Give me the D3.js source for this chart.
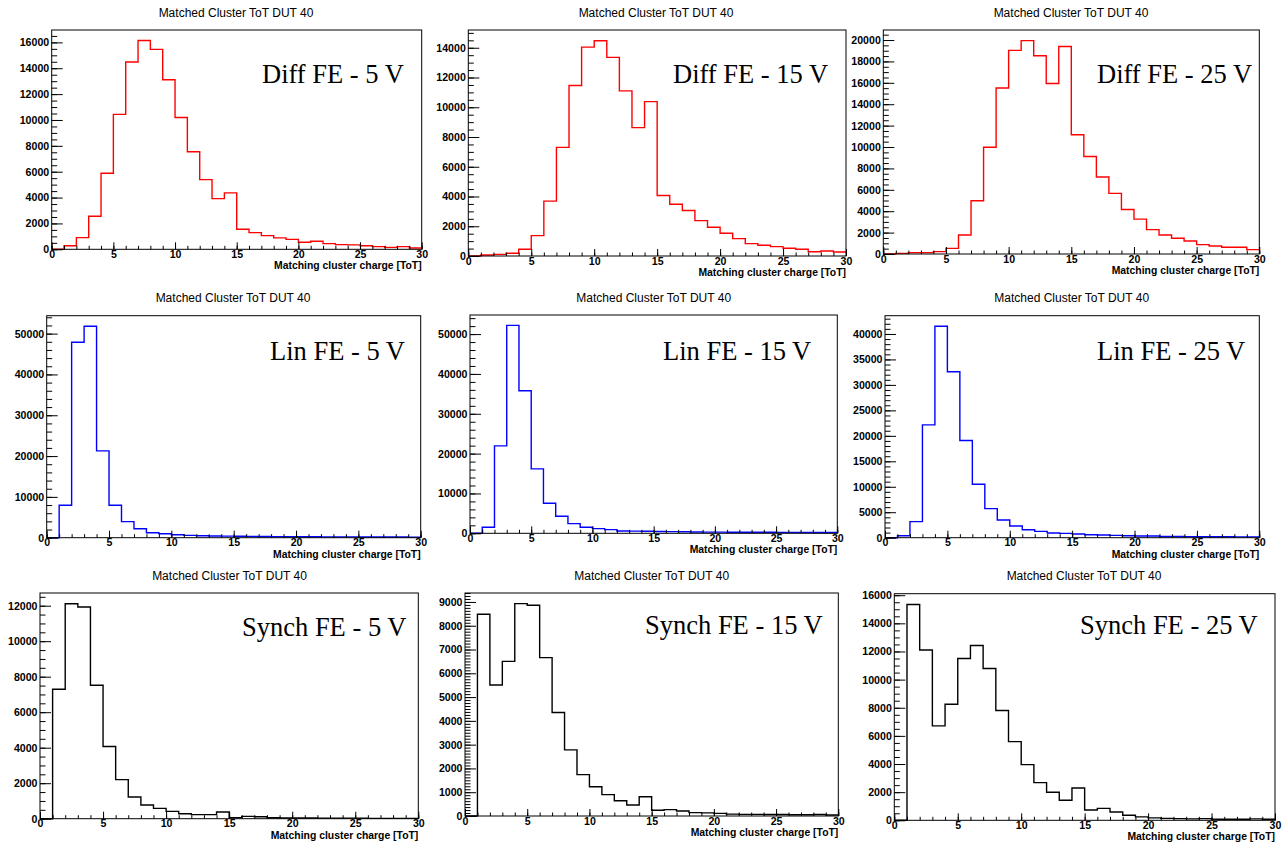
<!DOCTYPE html>
<html>
<head>
<meta charset="utf-8">
<script src="https://cdn.jsdelivr.net/npm/d3@7"></script>
<style>
  html, body { margin: 0; padding: 0; background: #ffffff; }
  svg { display: block; }
</style>
</head>
<body>
<svg id="chart" width="1288" height="846"></svg>
<script>
// ---------------- DATA ----------------
// bin edges: 30 bins of width 1 ToT, from 0 to 30
const binEdges = d3.range(0, 31);
const xTickLabels = [0, 5, 10, 15, 20, 25, 30];

const plotTitle = "Matched Cluster ToT DUT 40";
const xAxisTitle = "Matching cluster charge [ToT]";

// Diff FE
const diff5  = [0, 280, 900, 2550, 5880, 10430, 14480, 16150, 15460, 13110, 10190, 7540, 5390, 3920, 4360, 1550, 1290, 1060, 880, 770, 540, 620, 440, 360, 340, 280, 210, 150, 210, 100];
const diff15 = [0, 70, 110, 180, 450, 1370, 3690, 7300, 11460, 14040, 14470, 13350, 11100, 8630, 10380, 4070, 3480, 3060, 2380, 1930, 1530, 1170, 830, 720, 630, 520, 450, 290, 340, 270];
const diff25 = [0, 60, 125, 125, 220, 530, 1780, 4980, 9980, 15520, 19030, 19940, 18530, 15930, 19400, 11140, 9110, 7200, 5670, 4160, 3260, 2280, 1780, 1470, 1220, 880, 750, 630, 630, 410];
// Lin FE
const lin5  = [0, 7940, 47870, 51800, 21280, 7940, 3930, 2210, 1230, 980, 740, 570, 490, 420, 380, 350, 320, 290, 270, 250, 230, 220, 210, 200, 190, 180, 170, 160, 160, 150];
const lin15 = [0, 1510, 21940, 52180, 35760, 16160, 7540, 4270, 2430, 1510, 1170, 920, 590, 540, 500, 470, 420, 390, 320, 300, 290, 280, 270, 260, 250, 240, 230, 220, 210, 200];
const lin25 = [0, 390, 3150, 22160, 41510, 32590, 19080, 10490, 5700, 3480, 2300, 1570, 1250, 920, 850, 720, 590, 520, 460, 390, 330, 330, 250, 230, 220, 200, 190, 180, 170, 160];
// Synch FE
const synch5  = [0, 7290, 12110, 11930, 7520, 4070, 2200, 1220, 770, 580, 410, 280, 230, 230, 380, 60, 130, 110, 50, 40, 40, 40, 30, 30, 30, 30, 20, 20, 20, 20];
const synch15 = [0, 8480, 5510, 6500, 8930, 8860, 6660, 4350, 2780, 1740, 1230, 900, 640, 460, 810, 240, 270, 210, 140, 130, 110, 80, 70, 70, 60, 60, 50, 50, 60, 40];
const synch25 = [0, 15340, 12110, 6710, 8250, 11500, 12420, 10790, 7800, 5590, 3960, 2680, 1990, 1420, 2300, 730, 850, 590, 360, 240, 170, 140, 120, 100, 120, 70, 70, 70, 100, 70];

// ---------------- LAYOUT ----------------
const panels = [
  { data: diff5,   color: "#ff0000", label: "Diff FE - 5 V",   frame: [51.7, 30, 421.7, 249.3],    yMajor: 2000,  yMinor: 500,  labelAt: [262, 83],    titleAt: [236, 16.5] },
  { data: diff15,  color: "#ff0000", label: "Diff FE - 15 V",  frame: [468.3, 30, 846, 256],       yMajor: 2000,  yMinor: 500,  labelAt: [673, 83],    titleAt: [656, 16.5] },
  { data: diff25,  color: "#ff0000", label: "Diff FE - 25 V",  frame: [883.3, 30, 1259.3, 254],    yMajor: 2000,  yMinor: 500,  labelAt: [1097, 82.5], titleAt: [1071, 16.5] },
  { data: lin5,    color: "#0000ff", label: "Lin FE - 5 V",    frame: [46.7, 315.7, 420.7, 537.7], yMajor: 10000, yMinor: 2000, labelAt: [270, 360],   titleAt: [233, 301.5] },
  { data: lin15,   color: "#0000ff", label: "Lin FE - 15 V",   frame: [470, 315, 837.3, 533.3],    yMajor: 10000, yMinor: 2000, labelAt: [663, 359.5], titleAt: [653.7, 301.5] },
  { data: lin25,   color: "#0000ff", label: "Lin FE - 25 V",   frame: [885, 315.7, 1259.3, 537.7], yMajor: 5000,  yMinor: 1000, labelAt: [1097, 360],  titleAt: [1071.7, 301.5] },
  { data: synch5,  color: "#000000", label: "Synch FE - 5 V",  frame: [40, 593, 418.3, 818.7],     yMajor: 2000,  yMinor: 500,  labelAt: [242, 636],   titleAt: [229.5, 579.5] },
  { data: synch15, color: "#000000", label: "Synch FE - 15 V", frame: [465, 593, 838.3, 816],      yMajor: 1000,  yMinor: 125,  labelAt: [645, 634],   titleAt: [651.7, 579.5] },
  { data: synch25, color: "#000000", label: "Synch FE - 25 V", frame: [894.3, 593.7, 1275, 820.3], yMajor: 2000,  yMinor: 500,  labelAt: [1080, 634],  titleAt: [1084, 579.5] }
];

const sans = "'Liberation Sans', Arial, Helvetica, sans-serif";
const serif = "'Liberation Serif', 'Times New Roman', Times, serif";

const svg = d3.select("#chart");
svg.append("rect").attr("width", 1288).attr("height", 846).attr("fill", "#ffffff");

panels.forEach(p => {
  const [x0, y0, x1, y1] = p.frame;
  const ymax = 1.05 * d3.max(p.data);
  const x = d3.scaleLinear().domain([0, 30]).range([x0, x1]);
  const y = d3.scaleLinear().domain([0, ymax]).range([y1, y0]);

  const g = svg.append("g");

  // title
  g.append("text")
    .attr("x", p.titleAt[0]).attr("y", p.titleAt[1])
    .attr("text-anchor", "middle")
    .attr("font-family", sans).attr("font-size", "12px")
    .attr("fill", "#000")
    .text(plotTitle);

  // histogram (step line)
  const pts = p.data.map((v, i) => [binEdges[i], v]);
  pts.push([binEdges[30], p.data[29]]);
  const line = d3.line()
    .x(d => x(d[0])).y(d => y(d[1]))
    .curve(d3.curveStepAfter);
  g.append("path")
    .attr("d", line(pts))
    .attr("fill", "none")
    .attr("stroke", p.color)
    .attr("stroke-width", 1.4);

  // y minor ticks
  const yMinorVals = d3.range(0, ymax, p.yMinor);
  g.append("g")
    .attr("transform", `translate(${x0},0)`)
    .call(d3.axisLeft(y).tickValues(yMinorVals).tickSizeInner(-5.5).tickSizeOuter(0).tickFormat(""))
    .call(a => a.select(".domain").remove());
  // y major ticks + labels
  const yMajorVals = d3.range(0, ymax, p.yMajor);
  g.append("g")
    .attr("transform", `translate(${x0},0)`)
    .call(d3.axisLeft(y).tickValues(yMajorVals).tickSizeInner(-11).tickSizeOuter(0).tickPadding(2.5).tickFormat(d3.format("d")))
    .call(a => a.select(".domain").remove())
    .call(a => a.selectAll("text").attr("font-family", sans).attr("font-weight", "bold").attr("font-size", "10.6px").attr("fill", "#000"));

  // x minor ticks
  g.append("g")
    .attr("transform", `translate(0,${y1})`)
    .call(d3.axisBottom(x).tickValues(binEdges).tickSizeInner(-3.5).tickSizeOuter(0).tickFormat(""))
    .call(a => a.select(".domain").remove());
  // x major ticks + labels
  g.append("g")
    .attr("transform", `translate(0,${y1})`)
    .call(d3.axisBottom(x).tickValues(xTickLabels).tickSizeInner(-7).tickSizeOuter(0).tickPadding(1.0).tickFormat(d3.format("d")))
    .call(a => a.select(".domain").remove())
    .call(a => a.selectAll("text").attr("font-family", sans).attr("font-weight", "bold").attr("font-size", "10.6px").attr("fill", "#000"));

  g.selectAll(".tick line").attr("stroke", "#000").attr("stroke-width", 1);

  // frame
  g.append("rect")
    .attr("x", x0).attr("y", y0)
    .attr("width", x1 - x0).attr("height", y1 - y0)
    .attr("fill", "none").attr("stroke", "#000").attr("stroke-width", 1);

  // x axis title
  g.append("text")
    .attr("x", x1).attr("y", y1 + 20)
    .attr("text-anchor", "end")
    .attr("font-family", sans).attr("font-weight", "bold").attr("font-size", "10.4px")
    .attr("fill", "#000")
    .text(xAxisTitle);

  // panel label
  g.append("text")
    .attr("x", p.labelAt[0]).attr("y", p.labelAt[1])
    .attr("font-family", serif).attr("font-size", "26.5px")
    .attr("fill", "#000")
    .text(p.label);
});
</script>
</body>
</html>
